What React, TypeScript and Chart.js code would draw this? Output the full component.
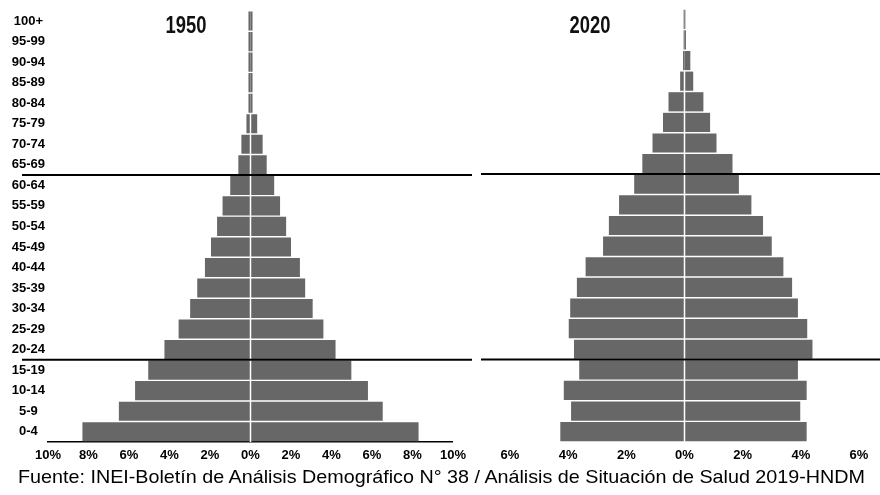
import React, { useEffect, useRef } from "react";
import { Chart, registerables } from "chart.js";

Chart.register(...registerables);

// ---- data ----
const ageGroups = [
  "0-4", "5-9", "10-14", "15-19", "20-24", "25-29", "30-34", "35-39", "40-44",
  "45-49", "50-54", "55-59", "60-64", "65-69", "70-74", "75-79", "80-84",
  "85-89", "90-94", "95-99", "100+",
];
// percent of population, left half (men) and right half (women)
const men1950 = [8.3, 6.5, 5.7, 5.05, 4.25, 3.55, 2.98, 2.63, 2.25, 1.95, 1.65, 1.38, 1.0, 0.6, 0.45, 0.2, 0.1, 0.1, 0.1, 0.1, 0.1];
const women1950 = [8.3, 6.53, 5.8, 4.98, 4.2, 3.6, 3.07, 2.7, 2.44, 2.0, 1.76, 1.46, 1.17, 0.8, 0.6, 0.33, 0.1, 0.1, 0.1, 0.1, 0.1];
const men2020 = [4.27, 3.9, 4.15, 3.62, 3.8, 3.98, 3.93, 3.7, 3.4, 2.8, 2.6, 2.25, 1.73, 1.45, 1.1, 0.74, 0.55, 0.15, 0.05, 0.03, 0.03];
const women2020 = [4.2, 3.98, 4.2, 3.9, 4.4, 4.22, 3.9, 3.7, 3.4, 3.0, 2.7, 2.3, 1.87, 1.65, 1.1, 0.88, 0.65, 0.3, 0.2, 0.05, 0.03];
const range1950 = [-10, 10];
const range2020 = [-6, 6];
const tickStep = 2;
const dividerPairs: [string, string][] = [["60-64", "65-69"], ["15-19", "20-24"]];
const titles = ["1950", "2020"];
const sourceText = "Fuente: INEI-Boletín de Análisis Demográfico N° 38 / Análisis de Situación de Salud 2019-HNDM";

// ---- style ----
const BAR = "#676767";
const TICK_FONT = { family: '"Liberation Sans", Arial, sans-serif', size: 13, weight: "bold" as const };

function extrasPlugin(lineStartX: number, men: number[], women: number[]) {
  return {
    id: "pyramidExtras",
    afterDatasetsDraw(chart: any) {
      const { ctx } = chart;
      const x = chart.scales.x;
      const y = chart.scales.y;
      const x0 = x.getPixelForValue(0);
      const band = Math.abs(y.getPixelForValue(0) - y.getPixelForValue(1));
      ctx.save();
      ctx.fillStyle = "#ffffff";
      for (let i = 0; i < ageGroups.length; i++) {
        if (Math.min(men[i], women[i]) >= 0.15) {
          const cy = y.getPixelForValue(i);
          ctx.fillRect(x0 - 0.75, cy - band / 2, 1.5, band);
        }
      }
      ctx.strokeStyle = "#000000";
      ctx.lineWidth = 2;
      for (const [a, b] of dividerPairs) {
        const ya = y.getPixelForValue(ageGroups.indexOf(a));
        const yb = y.getPixelForValue(ageGroups.indexOf(b));
        const yy = (ya + yb) / 2;
        ctx.beginPath();
        ctx.moveTo(lineStartX, yy);
        ctx.lineTo(chart.width, yy);
        ctx.stroke();
      }
      ctx.restore();
    },
  };
}

type PyramidProps = {
  men: number[];
  women: number[];
  range: number[];
  width: number;
  height: number;
  padLeft: number;
  padRight: number;
  yWidth: number;
  showY: boolean;
  showBorder: boolean;
  lineStartX: number;
};

function Pyramid(p: PyramidProps) {
  const ref = useRef<HTMLCanvasElement | null>(null);
  useEffect(() => {
    if (!ref.current) return;
    const chart = new Chart(ref.current, {
      type: "bar",
      data: {
        labels: ageGroups,
        datasets: [
          { data: p.men.map((v) => -v), backgroundColor: BAR, barPercentage: 0.93, categoryPercentage: 1 },
          { data: p.women, backgroundColor: BAR, barPercentage: 0.93, categoryPercentage: 1 },
        ],
      },
      options: {
        indexAxis: "y",
        animation: false,
        responsive: false,
        maintainAspectRatio: false,
        layout: { padding: { top: 9, bottom: 0, left: p.padLeft, right: p.padRight } },
        plugins: { legend: { display: false }, tooltip: { enabled: false }, title: { display: false } },
        scales: {
          x: {
            min: p.range[0],
            max: p.range[1],
            stacked: true,
            grid: { display: false, drawTicks: false },
            border: { display: p.showBorder, color: "#000", width: 1.5 },
            ticks: {
              stepSize: tickStep,
              callback: (v: any) => Math.abs(Number(v)) + "%",
              font: TICK_FONT,
              color: "#000",
              padding: 6,
              maxRotation: 0,
              autoSkip: false,
            },
            afterFit: (s: any) => {
              s.height = 28;
            },
          },
          y: {
            reverse: true,
            stacked: true,
            display: p.showY,
            grid: { display: false, drawTicks: false },
            border: { display: false },
            ticks: { font: TICK_FONT, color: "#000", crossAlign: "center", padding: 3, autoSkip: false },
            afterFit: (s: any) => {
              s.width = p.yWidth;
            },
          },
        },
      },
      plugins: [extrasPlugin(p.lineStartX, p.men, p.women)],
    } as any);
    return () => chart.destroy();
  }, []);
  return <canvas ref={ref} width={p.width} height={p.height} style={{ width: p.width, height: p.height, display: "block" }} />;
}

export default function App() {
  const footRef = useRef<HTMLDivElement | null>(null);
  useEffect(() => {
    const el = footRef.current;
    if (!el) return;
    el.style.transform = "none";
    const w = el.getBoundingClientRect().width;
    if (w > 0) el.style.transform = `scaleX(${847 / w})`;
  }, []);
  const titleStyle: React.CSSProperties = {
    position: "absolute",
    width: 100,
    textAlign: "center",
    top: 14,
    fontFamily: '"Liberation Sans", Arial, sans-serif',
    fontWeight: "bold",
    fontSize: 23,
    lineHeight: "23px",
    color: "#111",
    transform: "scaleX(0.8)",
    transformOrigin: "50% 0",
  };
  return (
    <div style={{ position: "absolute", left: 0, top: 0, width: 880, height: 495, background: "#fff", overflow: "hidden" }}>
      <div style={{ position: "absolute", left: 0, top: 0 }}>
        <Pyramid men={men1950} women={women1950} range={range1950} width={472} height={470}
          padLeft={0} padRight={15} yWidth={48} showY={true} showBorder={true} lineStartX={22} />
      </div>
      <div style={{ position: "absolute", left: 472, top: 0 }}>
        <Pyramid men={men2020} women={women2020} range={range2020} width={408} height={470}
          padLeft={38} padRight={21} yWidth={0} showY={false} showBorder={false} lineStartX={9} />
      </div>
      <div style={{ ...titleStyle, left: 136 }}>{titles[0]}</div>
      <div style={{ ...titleStyle, left: 540 }}>{titles[1]}</div>
      <div
        ref={footRef}
        style={{
          position: "absolute",
          left: 18,
          top: 467,
          whiteSpace: "nowrap",
          transformOrigin: "0 0",
          fontFamily: '"Liberation Sans", Arial, sans-serif',
          fontSize: 19,
          lineHeight: "19px",
          color: "#000",
        }}
      >
        {sourceText}
      </div>
    </div>
  );
}
